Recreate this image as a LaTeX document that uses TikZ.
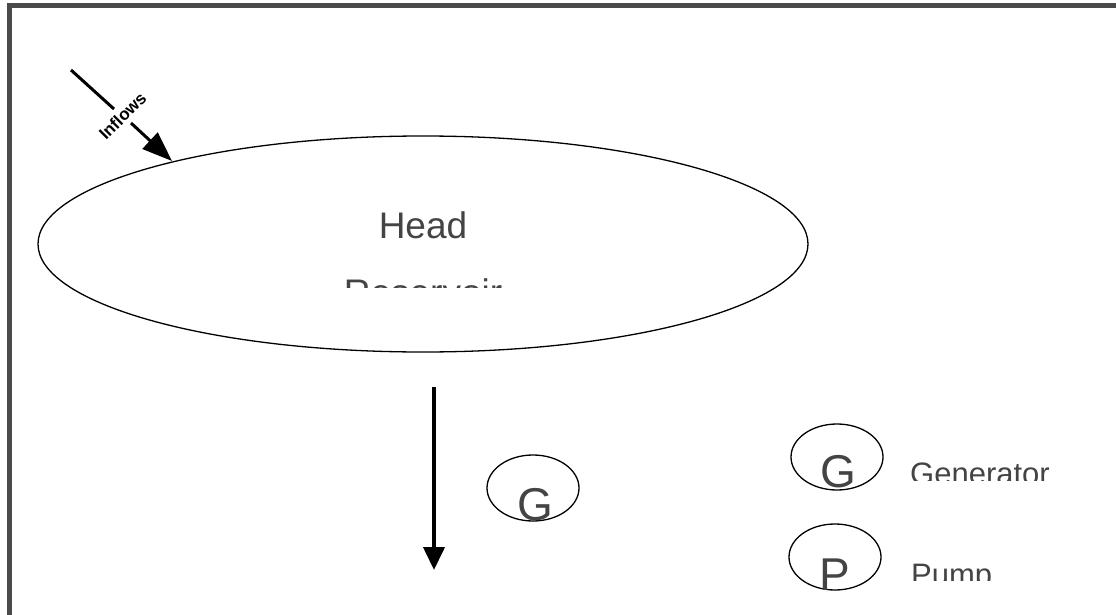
\documentclass[tikz,border=0pt]{standalone}
\usepackage{fontspec}
\setmainfont{Liberation Sans}
\usetikzlibrary{shapes.geometric,arrows.meta}
\definecolor{framegray}{HTML}{4A4A4A}
\definecolor{textgray}{HTML}{444444}
\tikzset{
  unit/.style={draw, ellipse, line width=1.3pt, inner sep=0pt, minimum width=92pt, minimum height=66pt},
  bigtext/.style={textgray, inner sep=0pt, font=\fontsize{37}{40}\selectfont},
  gtext/.style={textgray, inner sep=0pt, font=\fontsize{46}{48}\selectfont},
  keytext/.style={textgray, inner sep=0pt, font=\fontsize{31}{34}\selectfont}
}
\begin{document}
\begin{tikzpicture}[x=1pt,y=-1pt]
\useasboundingbox (0,0) rectangle (1116,615);
\clip (0,0) rectangle (1116,615);
\draw[framegray, line width=5pt] (9.5,640) -- (9.5,6) -- (1140,6);
\node[draw, ellipse, line width=1.3pt, minimum width=770pt, minimum height=216pt] (res) at (423,244) {};
\node[bigtext, anchor=base] (head) at (423,238) {Head};
\begin{scope}
\clip (0,0) rectangle (1116,287);
\node[bigtext, anchor=base] (resv) at (423,305) {Reservoir};
\end{scope}
\coordinate (in1) at (71,70);
\coordinate (in2) at (114,109);
\coordinate (in3) at (131,123);
\coordinate (in4) at (172,161);
\draw[line width=3pt] (in1) -- (in2);
\draw[line width=3pt, -{Triangle[length=30pt,width=22pt]}] (in3) -- (in4);
\node[rotate=45, inner sep=0pt, font=\bfseries\fontsize{17}{18}\selectfont] (inflow) at (122.5,116) {Inflows};
\coordinate (out1) at (434,387);
\coordinate (out2) at (434,570);
\draw[line width=4pt, -{Triangle[length=23pt,width=21pt]}] (out1) -- (out2);
\node[unit] (gen) at (533,488) {};
\node[gtext, anchor=base] (gen g) at (535,520) {G};
\node[unit] (key g) at (837,457) {};
\node[gtext, anchor=base] (key g text) at (838,487) {G};
\node[unit] (key p) at (835,557) {};
\node[gtext, anchor=base] (key p text) at (835,590) {P};
\begin{scope}
\clip (0,0) rectangle (1116,480);
\node[keytext, anchor=base west] (generator) at (910,484) {Generator};
\end{scope}
\begin{scope}
\clip (0,0) rectangle (1116,580);
\node[keytext, anchor=base west] (pump) at (911,585) {Pump};
\end{scope}
\end{tikzpicture}
\end{document}
